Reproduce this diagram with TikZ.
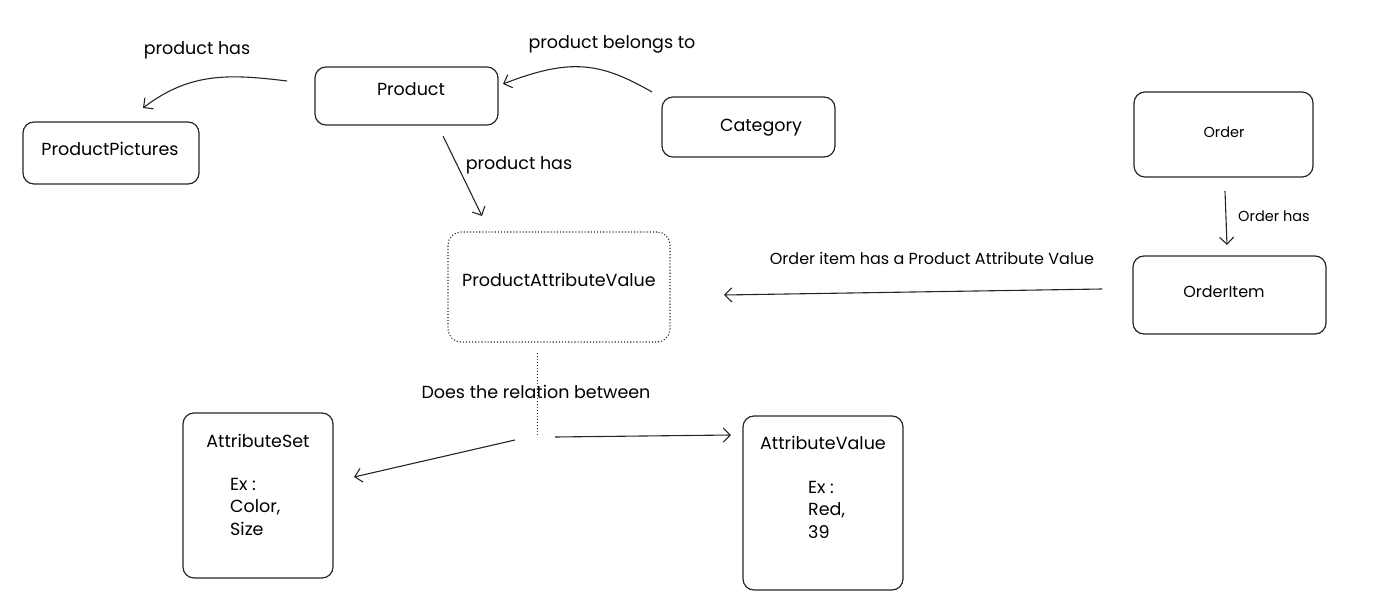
\documentclass[tikz,border=0pt]{standalone}
\usepackage{fontspec}
\setmainfont{Poppins}
\usetikzlibrary{arrows.meta,calc}
\begin{document}
\begin{tikzpicture}[x=1pt,y=-1pt,
  box/.style={draw=black!85,line width=1.2pt,rounded corners=11pt,inner sep=0pt},
  dbox/.style={draw=black!85,line width=1.1pt,dotted,rounded corners=13pt,inner sep=0pt},
  lbl/.style={font=\fontsize{17.5}{20}\selectfont,inner sep=0pt},
  slbl/.style={font=\fontsize{14.5}{16}\selectfont,inner sep=0pt},
  conn/.style={draw=black!85,line width=1.1pt,-{Straight Barb[length=7pt,width=14pt,line width=1.1pt]}}]
\useasboundingbox (0,0) rectangle (1377,607);
% boxes
\node[box,minimum width=183pt,minimum height=58pt] (product) at (406.5,96) {};
\node[lbl] (productT) at (411,89) {Product};
\node[box,minimum width=176pt,minimum height=62pt] (pics) at (111,153) {};
\node[lbl] (picsT) at (110,149) {ProductPictures};
\node[box,minimum width=173pt,minimum height=60pt] (cat) at (748.5,127) {};
\node[lbl] (catT) at (761,128) {Category};
\node[box,minimum width=179pt,minimum height=85pt] (order) at (1223.5,134.5) {};
\node[slbl] (orderT) at (1224,132) {Order};
\node[box,minimum width=193pt,minimum height=78pt] (item) at (1229.5,295) {};
\node[lbl,font=\fontsize{16}{18}\selectfont] (itemT) at (1224,292) {OrderItem};
\node[dbox,minimum width=222pt,minimum height=110pt] (pav) at (559,287) {};
\node[lbl] (pavT) at (559,280) {ProductAttributeValue};
\node[box,minimum width=150pt,minimum height=165pt] (aset) at (258,495.5) {};
\node[lbl] (asetT) at (258,441) {AttributeSet};
\node[lbl,align=left,anchor=north west,font=\fontsize{17.5}{22.5}\selectfont] (asetEx) at (230,478) {Ex :\\Color,\\Size};
\node[box,minimum width=160pt,minimum height=174pt] (aval) at (823,503) {};
\node[lbl] (avalT) at (823,443) {AttributeValue};
\node[lbl,align=left,anchor=north west,font=\fontsize{17.5}{22.5}\selectfont] (avalEx) at (808,481) {Ex :\\Red,\\39};
% labels
\node[lbl] (l1) at (197,50) {product has};
\node[lbl] (l2) at (612,44) {product belongs to};
\node[lbl] (l3) at (519,165) {product has};
\node[slbl] (l4) at (1274,216) {Order has};
\node[slbl,font=\fontsize{16}{18}\selectfont] (l5) at (932,258) {Order item has a Product Attribute Value};
\node[lbl] (l6) at (536,392) {Does the relation between};
% connector end points
\coordinate (a1s) at (287,81);
\coordinate (a1e) at (143,108);
\coordinate (a2s) at (652,92);
\coordinate (a2e) at (503,84);
\coordinate (a3s) at (443,136);
\coordinate (a3e) at (482,216);
\coordinate (a4s) at (1225,191);
\coordinate (a4e) at (1227,245);
\coordinate (a5s) at (1102,289);
\coordinate (a5e) at (724,295);
\coordinate (dvs) at (537,353);
\coordinate (dve) at (537,437);
\coordinate (a6s) at (515,440);
\coordinate (a6e) at (354,477);
\coordinate (a7s) at (555,437);
\coordinate (a7e) at (731,435);
% connectors
\draw[conn] (a1s) .. controls (230,74) and (190,72) .. (a1e);
\draw[conn] (a2s) .. controls (600,62) and (570,58) .. (a2e);
\draw[conn] (a3s) -- (a3e);
\draw[conn] (a4s) -- (a4e);
\draw[conn] (a5s) -- (a5e);
\draw[draw=black!85,line width=1pt,dotted] (dvs) -- (dve);
\draw[conn] (a6s) -- (a6e);
\draw[conn] (a7s) -- (a7e);
\end{tikzpicture}
\end{document}
